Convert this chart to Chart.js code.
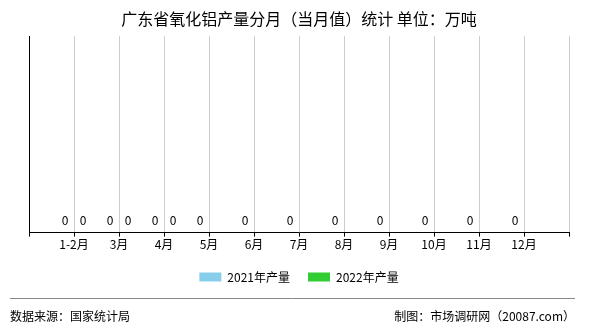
<!DOCTYPE html>
<html>
<head>
<meta charset="utf-8">
<script src="https://cdn.jsdelivr.net/npm/chart.js@4.4.1/dist/chart.umd.min.js"></script>
<style>
  html, body { margin: 0; padding: 0; background: #fff; }
  #wrap { width: 590px; height: 330px; }
</style>
</head>
<body>
<div id="wrap"><canvas id="chart" width="590" height="330"></canvas></div>
<script>
// Datos (blank slot at both ends so the months sit on the grid lines)
const months   = ['', '1-2月', '3月', '4月', '5月', '6月', '7月', '8月', '9月', '10月', '11月', '12月', ''];
const prod2021 = [null, 0, 0, 0, 0, 0, 0, 0, 0, 0, 0, 0, null];
const prod2022 = [null, 0, 0, 0, null, null, null, null, null, null, null, null, null];

const FONT = '"Noto Sans CJK SC", "Noto Sans", sans-serif';

// Etiquetas de valor encima de cada barra
const valueLabels = {
  id: 'valueLabels',
  afterDatasetsDraw(chart) {
    const ctx = chart.ctx;
    ctx.save();
    ctx.font = '12px ' + FONT;
    ctx.fillStyle = '#000';
    ctx.textAlign = 'center';
    ctx.textBaseline = 'bottom';
    chart.data.datasets.forEach((ds, i) => {
      chart.getDatasetMeta(i).data.forEach((bar, j) => {
        const v = ds.data[j];
        if (v === null || v === undefined) return;
        ctx.fillText(String(v), bar.x, bar.y - 6);
      });
    });
    ctx.restore();
  }
};

// Pie de página: fuente y autor
const footer = {
  id: 'footer',
  afterDraw(chart) {
    const ctx = chart.ctx;
    ctx.save();
    ctx.strokeStyle = '#888';
    ctx.lineWidth = 1;
    ctx.beginPath();
    ctx.moveTo(10, 298.5);
    ctx.lineTo(575, 298.5);
    ctx.stroke();
    ctx.font = '12px ' + FONT;
    ctx.fillStyle = '#000';
    ctx.textBaseline = 'middle';
    ctx.textAlign = 'left';
    ctx.fillText('数据来源：国家统计局', 10, 316);
    ctx.textAlign = 'right';
    ctx.fillText('制图：市场调研网（20087.com）', 575, 316);
    ctx.restore();
  }
};

new Chart(document.getElementById('chart').getContext('2d'), {
  type: 'bar',
  data: {
    labels: months,
    datasets: [
      { label: '2021年产量', data: prod2021, backgroundColor: '#87CEEB' },
      { label: '2022年产量', data: prod2022, backgroundColor: '#32CD32' }
    ]
  },
  options: {
    responsive: false,
    animation: false,
    layout: { padding: { left: 29, right: 21, top: 0, bottom: 37 } },
    plugins: {
      title: {
        display: true,
        text: '广东省氧化铝产量分月（当月值）统计 单位：万吨',
        color: '#000',
        font: { family: FONT, size: 16, weight: 'normal' },
        padding: { top: 9, bottom: 8 }
      },
      legend: {
        position: 'bottom',
        labels: {
          color: '#000',
          font: { family: FONT, size: 12 },
          boxWidth: 22,
          boxHeight: 9,
          padding: 18
        }
      },
      tooltip: { enabled: false }
    },
    scales: {
      x: {
        offset: false,
        grid: { color: '#cccccc', tickColor: '#000', tickLength: 4, offset: false },
        border: { color: '#000' },
        ticks: {
          color: '#000',
          font: { family: FONT, size: 12 },
          padding: 1,
          maxRotation: 0,
          autoSkip: false
        }
      },
      y: {
        min: 0,
        max: 1,
        grid: { drawOnChartArea: false, drawTicks: false },
        border: { color: '#000' },
        ticks: { display: false }
      }
    }
  },
  plugins: [valueLabels, footer]
});
</script>
</body>
</html>
